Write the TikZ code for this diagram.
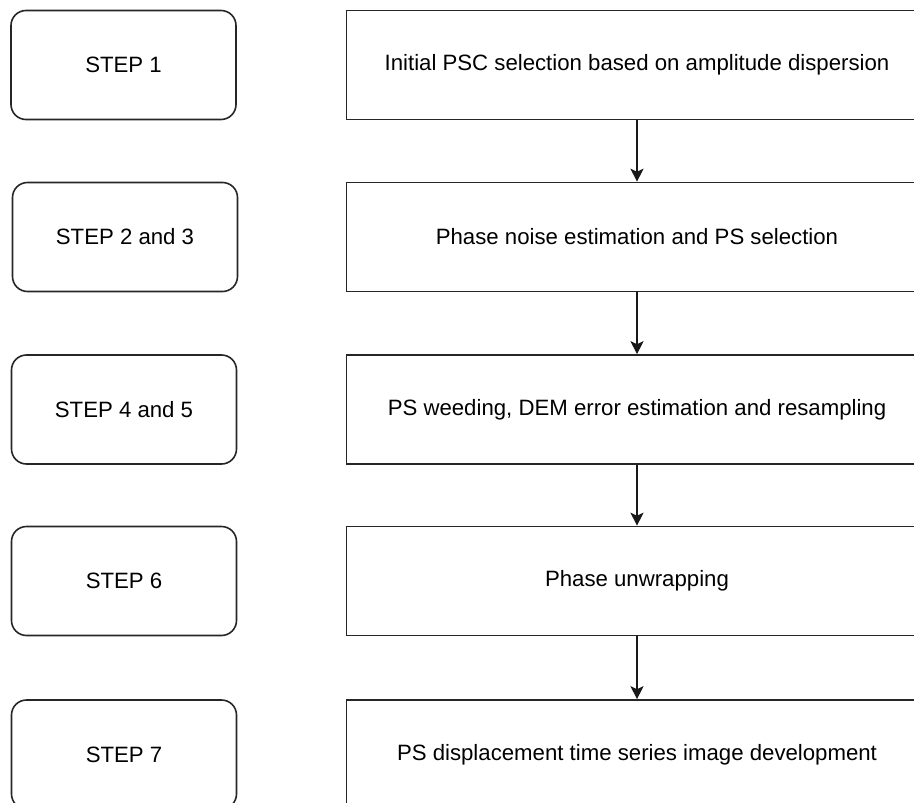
\documentclass[tikz,border=0pt]{standalone}
\usepackage{fontspec}
\setmainfont{Liberation Sans}
\usetikzlibrary{arrows.meta}
\begin{document}
\begin{tikzpicture}[x=1pt,y=-1pt,
  every node/.style={font=\fontsize{22.2}{26}\selectfont, text=black},
  stepbox/.style={draw=black!85, line width=1.6pt, rounded corners=15pt,
    minimum width=225pt, minimum height=109pt, inner sep=0pt},
  taskbox/.style={draw=black!85, line width=1.6pt,
    minimum width=581pt, minimum height=109pt, inner sep=0pt},
  flow/.style={draw=black!90, line width=1.5pt,
    -{Stealth[length=13pt,width=13pt,inset=3pt]}}]
  \useasboundingbox (0,0) rectangle (914,803);
  \clip (0,0) rectangle (914,803);

  % step labels on the left
  \node[stepbox] (s1) at (123.5,65)    {STEP 1};
  \node[stepbox] (s2) at (125,237)     {STEP 2 and 3};
  \node[stepbox] (s3) at (124,409.5)   {STEP 4 and 5};
  \node[stepbox] (s4) at (124,581)     {STEP 6};
  \node[stepbox] (s5) at (124,754.5)   {STEP 7};

  % processing stages on the right
  \node[taskbox] (t1) at (637,65)    {Initial PSC selection based on amplitude dispersion};
  \node[taskbox] (t2) at (637,237)   {Phase noise estimation and PS selection};
  \node[taskbox] (t3) at (637,409.5) {PS weeding, DEM error estimation and resampling};
  \node[taskbox] (t4) at (637,581)   {Phase unwrapping};
  \node[taskbox] (t5) at (637,754.5) {PS displacement time series image development};

  % flow between stages
  \draw[flow] (t1.south) -- (t2.north);
  \draw[flow] (t2.south) -- (t3.north);
  \draw[flow] (t3.south) -- (t4.north);
  \draw[flow] (t4.south) -- (t5.north);
\end{tikzpicture}
\end{document}
